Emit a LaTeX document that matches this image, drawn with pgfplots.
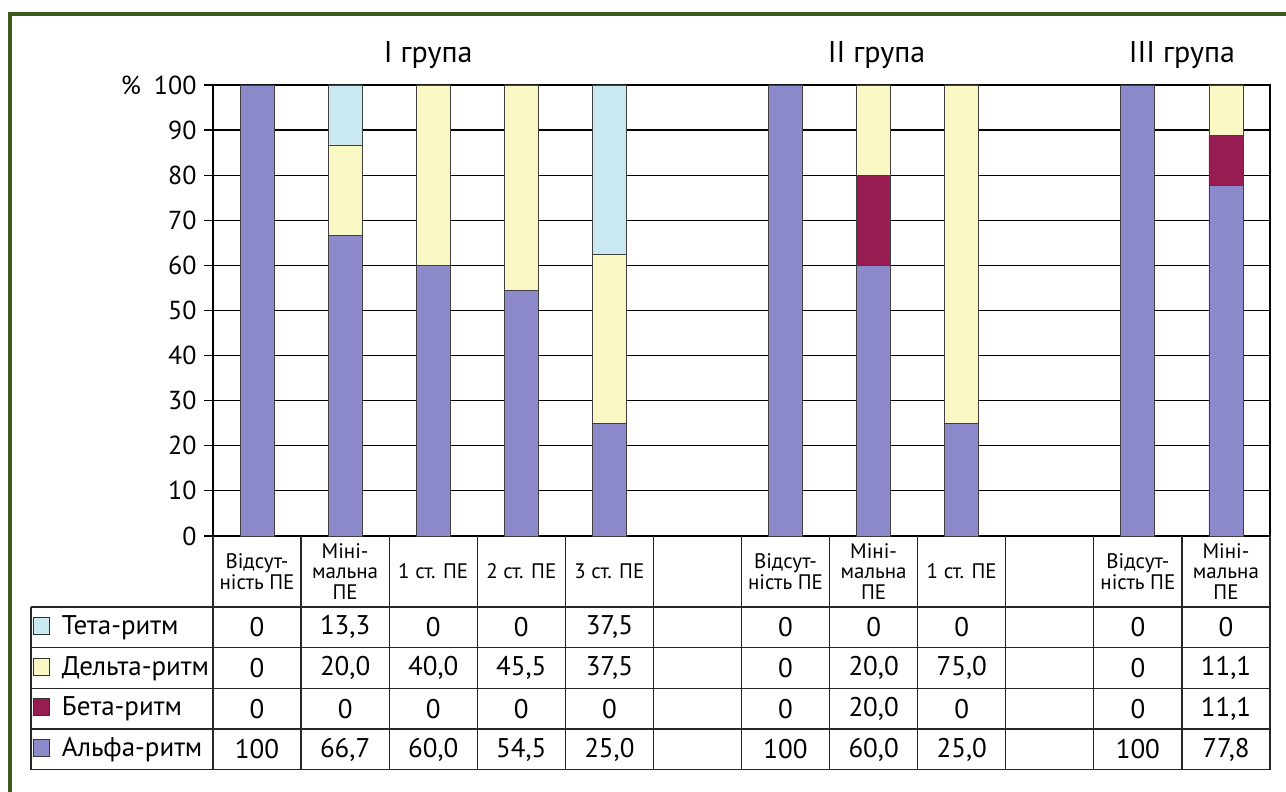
\documentclass[border=0pt]{standalone}
\usepackage{fontspec}
\setmainfont{PT Sans}
\usepackage{pgfplots}
\pgfplotsset{compat=1.18}
\usepackage{pgfplotstable}

\definecolor{alpharhythm}{RGB}{140,138,202}
\definecolor{betarhythm}{RGB}{150,28,82}
\definecolor{deltarhythm}{RGB}{250,248,196}
\definecolor{thetarhythm}{RGB}{202,232,241}
\definecolor{frame}{RGB}{58,92,24}

% share of each rhythm, %; x = column of the table
\pgfplotstableread{
x    alpha beta delta theta
0.5  100   0    0     0
1.5  66.7  0    20    13.3
2.5  60    0    40    0
3.5  54.5  0    45.5  0
4.5  25    0    37.5  37.5
6.5  100   0    0     0
7.5  60    20   20    0
8.5  25    0    75    0
10.5 100   0    0     0
11.5 77.8  11.1 11.1  0
}\rhythms

\newcommand{\hcell}[1]{\parbox[c][71pt][c]{88pt}{\centering\fontsize{21}{20.5}\selectfont #1}}
\newcommand{\vcell}[1]{\parbox[c][40.7pt][c]{88pt}{\centering\fontsize{27}{30}\selectfont #1}}
\newcommand{\tcol}[5]{\vbox{\offinterlineskip\hbox{\hcell{#1}}\hbox{\vcell{#2}}\hbox{\vcell{#3}}\hbox{\vcell{#4}}\hbox{\vcell{#5}}}}

\begin{document}
\begin{tikzpicture}
\useasboundingbox (0,0) rectangle (1286pt,792pt);
\draw[frame, line width=4.5pt] (10pt,778pt) rectangle (1320pt,-30pt);

\begin{axis}[
  name=ax,
  at={(213pt,256pt)}, anchor=south west,
  scale only axis, width=1057pt, height=451pt,
  xmin=0, xmax=12, ymin=0, ymax=100,
  enlargelimits=false, clip=false,
  ybar stacked, bar width=34pt,
  axis line style={line width=1.4pt, black},
  ymajorgrids, grid style={line width=1.2pt, black},
  tick align=outside, major tick length=9pt,
  ytick pos=left,
  ytick={0,10,...,100},
  yticklabels={0,10,20,30,40,50,60,70,80,90,{\%\hspace{13pt}100}},
  yticklabel style={font=\fontsize{26}{30}\selectfont, xshift=-4pt},
  ytick style={line width=1.2pt, black},
  xtick={0.5,1.5,2.5,3.5,4.5,6.5,7.5,8.5,10.5,11.5},
  xtick style={draw=none},
  xticklabel style={anchor=north, inner sep=0pt, outer sep=0pt, yshift=9pt},
  xticklabels={
    {\tcol{Відсут-\\ність ПЕ}{0}{0}{0}{100}},
    {\tcol{Міні-\\мальна\\ПЕ}{13,3}{20,0}{0}{66,7}},
    {\tcol{1 ст. ПЕ}{0}{40,0}{0}{60,0}},
    {\tcol{2 ст. ПЕ}{0}{45,5}{0}{54,5}},
    {\tcol{3 ст. ПЕ}{37,5}{37,5}{0}{25,0}},
    {\tcol{Відсут-\\ність ПЕ}{0}{0}{0}{100}},
    {\tcol{Міні-\\мальна\\ПЕ}{0}{20,0}{20,0}{60,0}},
    {\tcol{1 ст. ПЕ}{0}{75,0}{0}{25,0}},
    {\tcol{Відсут-\\ність ПЕ}{0}{0}{0}{100}},
    {\tcol{Міні-\\мальна\\ПЕ}{0}{11,1}{11,1}{77,8}}
  },
  every axis plot post/.append style={
    legend image code/.code={
      \path[draw=none, fill=none] (0pt,0pt) -- (31pt,0pt);
      \draw[##1, draw=black!80, line width=1pt] (3pt,0pt) rectangle (19pt,17pt);
    }
  },
  reverse legend,
  legend style={
    at={(axis description cs:-0.1722,-0.1574)}, anchor=north west,
    draw=none, fill=none, inner sep=0pt, outer sep=0pt, row sep=0pt,
    font=\fontsize{27}{30}\selectfont,
    nodes={inner sep=0pt, outer sep=0pt, minimum height=40.7pt,
      text height=20pt, text depth=6pt, anchor=base west}
  },
]
\addplot[fill=alpharhythm, draw=black!75, line width=0.8pt] table[x=x, y=alpha] {\rhythms};
\addlegendentry{Альфа-ритм}
\addplot[fill=betarhythm, draw=black!75, line width=0.8pt] table[x=x, y=beta] {\rhythms};
\addlegendentry{Бета-ритм}
\addplot[fill=deltarhythm, draw=black!75, line width=0.8pt] table[x=x, y=delta] {\rhythms};
\addlegendentry{Дельта-ритм}
\addplot[fill=thetarhythm, draw=black!75, line width=0.8pt] table[x=x, y=theta] {\rhythms};
\addlegendentry{Тета-ритм}

\node[font=\fontsize{30}{34}\selectfont, anchor=base, yshift=22pt, xshift=-5pt] at (axis cs:2.5,100) {I група};
\node[font=\fontsize{30}{34}\selectfont, anchor=base, yshift=22pt, xshift=3pt] at (axis cs:7.5,100) {II група};
\node[font=\fontsize{30}{34}\selectfont, anchor=base, yshift=22pt] at (axis cs:11,100) {III група};
\end{axis}

% rules of the table under the axis
\begin{scope}[shift={(ax.south west)}, line width=1.3pt, black!85]
  \foreach \y in {-71,-111.7,-152.4,-193.1,-233.8}
    \draw (-182pt,\y pt) -- (1057pt,\y pt);
  \draw (-182pt,-71pt) -- (-182pt,-233.8pt);
  \foreach \k in {0,...,12}
    \draw (\k*88.083pt,0pt) -- (\k*88.083pt,-233.8pt);
\end{scope}
\end{tikzpicture}
\end{document}
